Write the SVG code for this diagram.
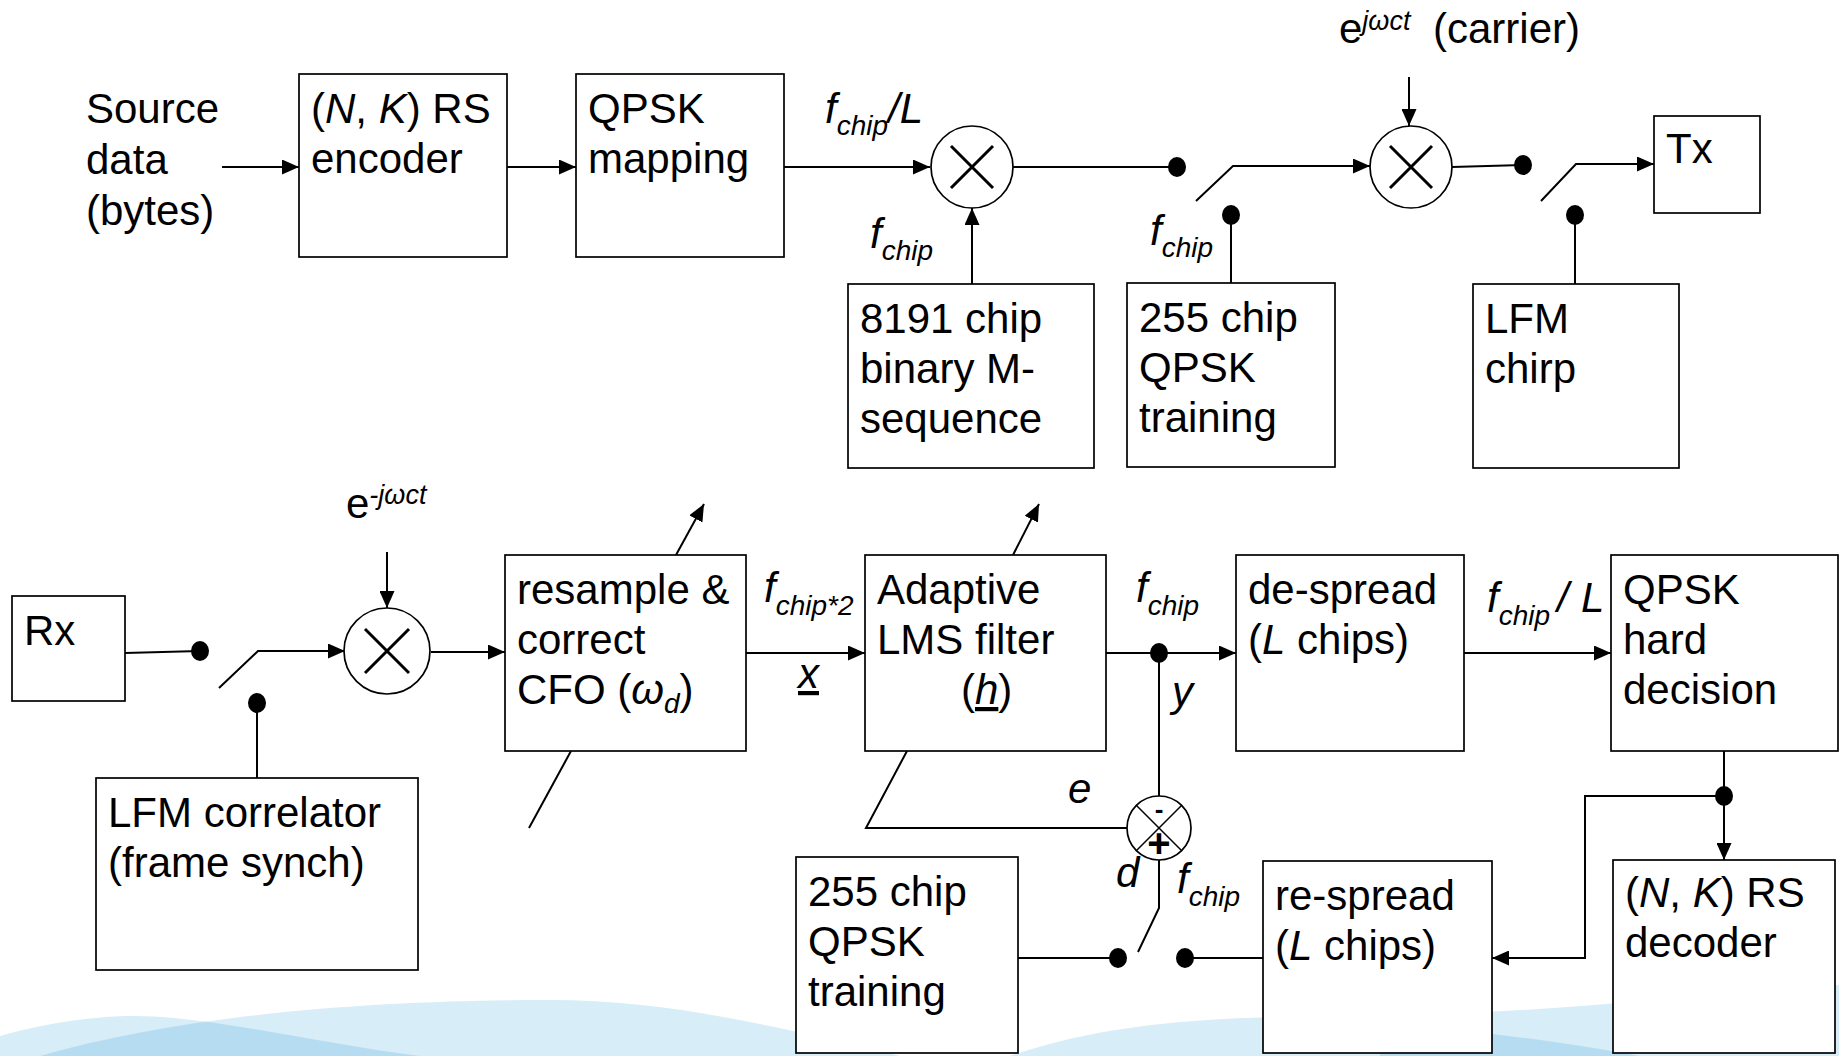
<svg xmlns="http://www.w3.org/2000/svg" width="1839" height="1056" viewBox="0 0 1839 1056">
  <defs>
    <style>
      .t { font-family: "Liberation Sans", Arial, sans-serif; font-size: 42px; fill: #000; }
      .i { font-style: italic; }
      .sub { font-size: 28px; font-style: italic; }
      .sup { font-size: 27px; font-style: italic; }
      .box { fill: #fff; stroke: #000; stroke-width: 1.7; }
      .ln { fill: none; stroke: #000; stroke-width: 2; }
      .arr { marker-end: url(#ah); }
      .dot { fill: #000; }
      .ring { fill: #fff; stroke: #000; stroke-width: 1.7; }
      .cross { stroke: #000; stroke-width: 3; fill: none; }
      .thin { stroke: #000; stroke-width: 1.5; fill: none; }
      .sign { font-family: "Liberation Sans", Arial, sans-serif; font-weight: bold; fill: #000; text-anchor: middle; }
      .minus { font-size: 26px; }
      .plus { font-size: 40px; }
      .w1 { fill: #d7edf8; }
      .w2 { fill: #b5dcf1; }
    </style>
    <marker id="ah" markerUnits="userSpaceOnUse" markerWidth="17" markerHeight="15" refX="17" refY="7.5" orient="auto">
      <path d="M0,0 L17,7.5 L0,15 Z" fill="#000"/>
    </marker>
    <clipPath id="bigHump">
      <path d="M40,1056 C200,1010 400,1000 550,1000 C660,1000 760,1022 900,1056 Z"/>
    </clipPath>
    <clipPath id="rightSwell">
      <path d="M1010,1056 C1100,1025 1200,1016 1350,1016 C1500,1016 1650,1000 1839,985 L1839,1056 Z"/>
    </clipPath>
  </defs>

  <rect width="1839" height="1056" fill="#fff"/>

  <!-- background swells along the bottom edge -->
  <g id="waves">
    <path class="w1" d="M0,1036 C50,1022 95,1016 135,1016 C210,1016 320,1044 420,1056 L0,1056 Z"/>
    <path class="w1" d="M40,1056 C200,1010 400,1000 550,1000 C660,1000 760,1022 900,1056 Z"/>
    <path class="w2" clip-path="url(#bigHump)" d="M0,1036 C50,1022 95,1016 135,1016 C210,1016 320,1044 420,1056 L0,1056 Z"/>
    <path class="w1" d="M1010,1056 C1100,1025 1200,1016 1350,1016 C1500,1016 1650,1000 1839,985 L1839,1056 Z"/>
    <path class="w2" clip-path="url(#rightSwell)" d="M1380,1026 C1470,1029 1550,1040 1640,1056 L1380,1056 Z"/>
  </g>

  <!-- signal paths -->
  <g id="connectors">
    <!-- transmitter chain -->
    <path class="ln arr" d="M222,167 L299,167"/>
    <path class="ln arr" d="M507,167 L576,167"/>
    <path class="ln arr" d="M784,167 L930,167"/>
    <path class="ln arr" d="M972,284 L972,208"/>
    <path class="ln" d="M1013,167 L1177,167"/>
    <path class="ln arr" d="M1196,201 L1233,166 L1370,166"/>
    <path class="ln" d="M1231,215 L1231,283"/>
    <path class="ln arr" d="M1409,77 L1409,126"/>
    <path class="ln" d="M1452,167 L1523,165"/>
    <path class="ln arr" d="M1541,201 L1576,164 L1654,164"/>
    <path class="ln" d="M1575,215 L1575,284"/>
    <!-- receiver chain -->
    <path class="ln" d="M125,653 L200,651"/>
    <path class="ln arr" d="M219,688 L258,651 L345,651"/>
    <path class="ln" d="M257,703 L257,778"/>
    <path class="ln arr" d="M387,552 L387,608"/>
    <path class="ln arr" d="M431,652 L505,652"/>
    <path class="ln arr" d="M676,555 L704,504"/>
    <path class="ln" d="M571,751 L529,828"/>
    <path class="ln arr" d="M746,653 L865,653"/>
    <path class="ln arr" d="M1013,555 L1039,504"/>
    <path class="ln" d="M907,751 L866,828 L1127,828"/>
    <path class="ln arr" d="M1106,653 L1236,653"/>
    <path class="ln" d="M1159,653 L1159,796"/>
    <path class="ln" d="M1159,860 L1159,908 L1138,952"/>
    <path class="ln" d="M1018,958 L1118,958"/>
    <path class="ln" d="M1185,958 L1263,958"/>
    <path class="ln arr" d="M1464,653 L1611,653"/>
    <path class="ln arr" d="M1724,751 L1724,860"/>
    <path class="ln arr" d="M1724,796 L1585,796 L1585,958 L1492,958"/>
    <!-- switch contacts and junctions -->
    <ellipse class="dot" cx="1177" cy="167" rx="9" ry="10"/>
    <ellipse class="dot" cx="1231" cy="215" rx="9" ry="10"/>
    <ellipse class="dot" cx="1523" cy="165" rx="9" ry="10"/>
    <ellipse class="dot" cx="1575" cy="215" rx="9" ry="10"/>
    <ellipse class="dot" cx="200" cy="651" rx="9" ry="10"/>
    <ellipse class="dot" cx="257" cy="703" rx="9" ry="10"/>
    <ellipse class="dot" cx="1159" cy="653" rx="9" ry="10"/>
    <ellipse class="dot" cx="1118" cy="958" rx="9" ry="10"/>
    <ellipse class="dot" cx="1185" cy="958" rx="9" ry="10"/>
    <ellipse class="dot" cx="1724" cy="796" rx="9" ry="10"/>
  </g>

  <!-- rate and signal labels -->
  <g id="labels">
    <text class="t" x="86" y="123">Source</text>
    <text class="t" x="86" y="174">data</text>
    <text class="t" x="86" y="225">(bytes)</text>
    <text class="t i" x="825" y="123">f<tspan class="sub" dy="12">chip</tspan><tspan dy="-12">/L</tspan></text>
    <text class="t i" x="870" y="248">f<tspan class="sub" dy="12">chip</tspan></text>
    <text class="t i" x="1150" y="245">f<tspan class="sub" dy="12">chip</tspan></text>
    <text class="t" x="1339" y="43">e<tspan class="sup" dy="-13">jωct</tspan><tspan x="1433" dy="13">(carrier)</tspan></text>
    <text class="t" x="346" y="518">e<tspan class="sup" dy="-14">-jωct</tspan></text>
    <text class="t i" x="764" y="602">f<tspan class="sub" dy="13">chip*2</tspan></text>
    <text class="t i" x="798" y="688" text-decoration="underline">x</text>
    <text class="t i" x="1136" y="602">f<tspan class="sub" dy="13">chip</tspan></text>
    <text class="t i" x="1172" y="706">y</text>
    <text class="t i" x="1487" y="612">f<tspan class="sub" dy="13">chip</tspan><tspan x="1557" dy="-13">/</tspan><tspan x="1581">L</tspan></text>
    <text class="t i" x="1068" y="803">e</text>
    <text class="t i" x="1116" y="887">d</text>
    <text class="t i" x="1177" y="893">f<tspan class="sub" dy="13">chip</tspan></text>
  </g>

  <!-- transmitter blocks -->
  <g id="rs-encoder">
    <rect class="box" x="299" y="74" width="208" height="183"/>
    <text class="t" x="311" y="123">(<tspan class="i">N</tspan>, <tspan class="i">K</tspan>) RS</text>
    <text class="t" x="311" y="173">encoder</text>
  </g>
  <g id="qpsk-mapping">
    <rect class="box" x="576" y="74" width="208" height="183"/>
    <text class="t" x="588" y="123">QPSK</text>
    <text class="t" x="588" y="173">mapping</text>
  </g>
  <g id="spread-mixer">
    <circle class="ring" cx="972" cy="167" r="41"/>
    <path class="cross" d="M951,146 L993,188 M993,146 L951,188"/>
  </g>
  <g id="m-sequence">
    <rect class="box" x="848" y="284" width="246" height="184"/>
    <text class="t" x="860" y="333">8191 chip</text>
    <text class="t" x="860" y="383">binary M-</text>
    <text class="t" x="860" y="433">sequence</text>
  </g>
  <g id="tx-training">
    <rect class="box" x="1127" y="283" width="208" height="184"/>
    <text class="t" x="1139" y="332">255 chip</text>
    <text class="t" x="1139" y="382">QPSK</text>
    <text class="t" x="1139" y="432">training</text>
  </g>
  <g id="carrier-mixer">
    <circle class="ring" cx="1411" cy="167" r="41"/>
    <path class="cross" d="M1390,146 L1432,188 M1432,146 L1390,188"/>
  </g>
  <g id="lfm-chirp">
    <rect class="box" x="1473" y="284" width="206" height="184"/>
    <text class="t" x="1485" y="333">LFM</text>
    <text class="t" x="1485" y="383">chirp</text>
  </g>
  <g id="tx">
    <rect class="box" x="1654" y="116" width="106" height="97"/>
    <text class="t" x="1666" y="163">Tx</text>
  </g>

  <!-- receiver blocks -->
  <g id="rx">
    <rect class="box" x="12" y="596" width="113" height="105"/>
    <text class="t" x="24" y="645">Rx</text>
  </g>
  <g id="lfm-correlator">
    <rect class="box" x="96" y="778" width="322" height="192"/>
    <text class="t" x="108" y="827">LFM correlator</text>
    <text class="t" x="108" y="877">(frame synch)</text>
  </g>
  <g id="downconvert-mixer">
    <circle class="ring" cx="387" cy="651" r="43"/>
    <path class="cross" d="M365,629 L409,673 M409,629 L365,673"/>
  </g>
  <g id="resample">
    <rect class="box" x="505" y="555" width="241" height="196"/>
    <text class="t" x="517" y="604">resample &amp;</text>
    <text class="t" x="517" y="654">correct</text>
    <text class="t" x="517" y="704">CFO (<tspan class="i">ω</tspan><tspan class="sub" dy="9">d</tspan><tspan dy="-9">)</tspan></text>
  </g>
  <g id="lms-filter">
    <rect class="box" x="865" y="555" width="241" height="196"/>
    <text class="t" x="877" y="604">Adaptive</text>
    <text class="t" x="877" y="654">LMS filter</text>
    <text class="t" x="961" y="704">(<tspan class="i" text-decoration="underline">h</tspan>)</text>
  </g>
  <g id="error-summer">
    <circle class="ring" cx="1159" cy="828" r="32"/>
    <path class="thin" d="M1136,805 L1182,851 M1182,805 L1136,851"/>
    <!-- input signs: minus for y (top), plus for d (bottom) -->
    <text class="sign"><tspan class="minus" x="1159" y="818">-</tspan><tspan class="plus" x="1159" y="857">+</tspan></text>
  </g>
  <g id="de-spread">
    <rect class="box" x="1236" y="555" width="228" height="196"/>
    <text class="t" x="1248" y="604">de-spread</text>
    <text class="t" x="1248" y="654">(<tspan class="i">L</tspan> chips)</text>
  </g>
  <g id="hard-decision">
    <rect class="box" x="1611" y="555" width="227" height="196"/>
    <text class="t" x="1623" y="604">QPSK</text>
    <text class="t" x="1623" y="654">hard</text>
    <text class="t" x="1623" y="704">decision</text>
  </g>
  <g id="rx-training">
    <rect class="box" x="796" y="857" width="222" height="196"/>
    <text class="t" x="808" y="906">255 chip</text>
    <text class="t" x="808" y="956">QPSK</text>
    <text class="t" x="808" y="1006">training</text>
  </g>
  <g id="re-spread">
    <rect class="box" x="1263" y="861" width="229" height="192"/>
    <text class="t" x="1275" y="910">re-spread</text>
    <text class="t" x="1275" y="960">(<tspan class="i">L</tspan> chips)</text>
  </g>
  <g id="rs-decoder">
    <rect class="box" x="1613" y="860" width="222" height="193"/>
    <text class="t" x="1625" y="907">(<tspan class="i">N</tspan>, <tspan class="i">K</tspan>) RS</text>
    <text class="t" x="1625" y="957">decoder</text>
  </g>
</svg>
